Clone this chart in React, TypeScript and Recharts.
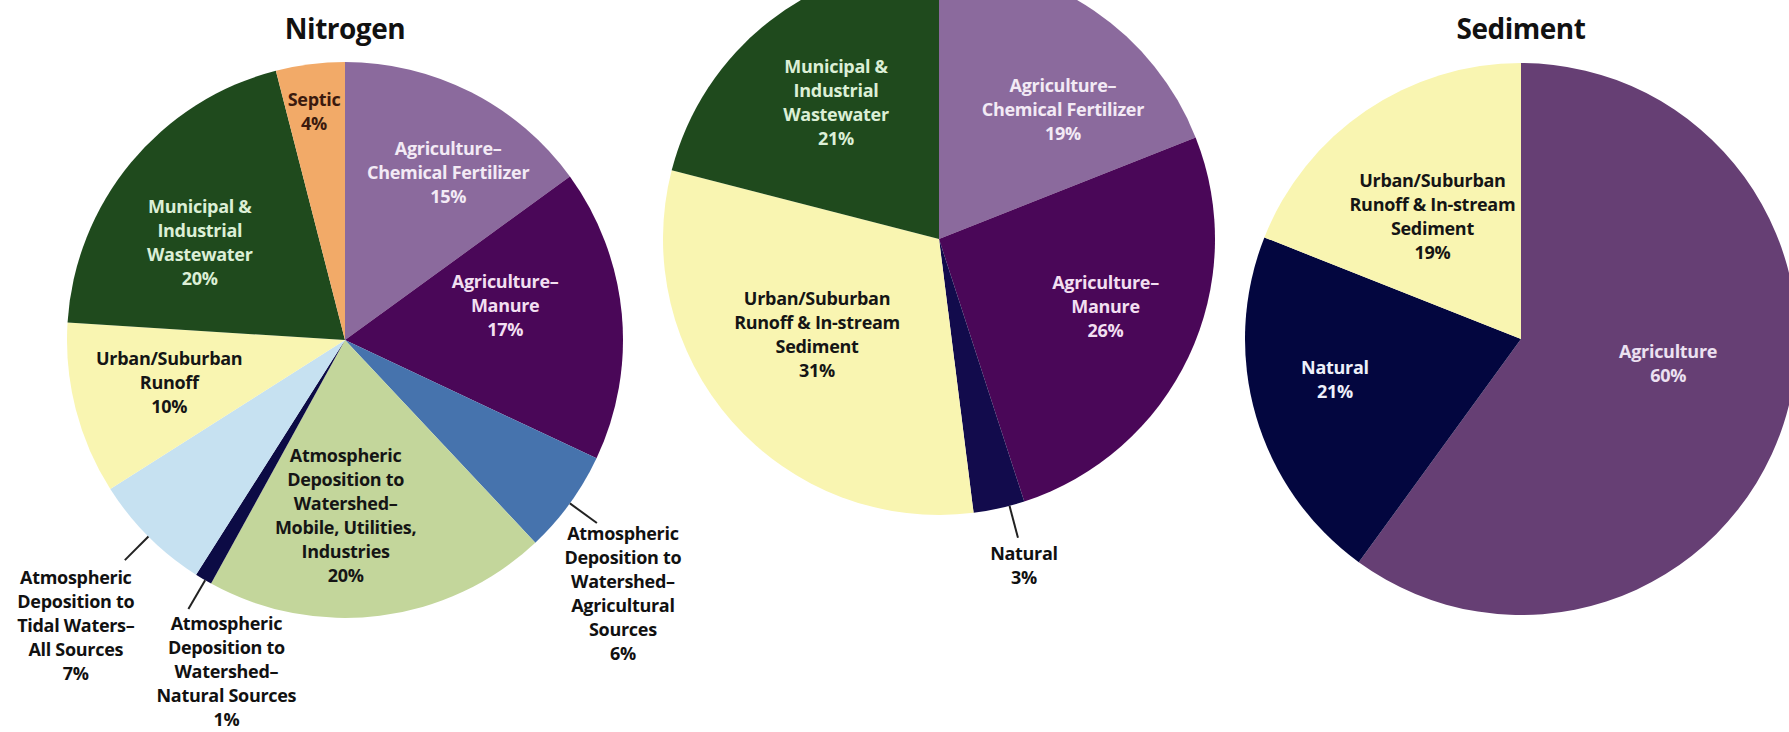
import { PieChart, Pie, Cell } from "recharts";

// Nitrogen loads by source (%), clockwise from 12 o'clock
const nitrogenNames = [
  "Agriculture–\nChemical Fertilizer",
  "Agriculture–\nManure",
  "Atmospheric\nDeposition to\nWatershed–\nAgricultural\nSources",
  "Atmospheric\nDeposition to\nWatershed–\nMobile, Utilities,\nIndustries",
  "Atmospheric\nDeposition to\nWatershed–\nNatural Sources",
  "Atmospheric\nDeposition to\nTidal Waters–\nAll Sources",
  "Urban/Suburban\nRunoff",
  "Municipal &\nIndustrial\nWastewater",
  "Septic",
];
const nitrogenValues = [15, 17, 6, 20, 1, 7, 10, 20, 4];

// Phosphorus (title sits above the visible area)
const phosphorusNames = [
  "Agriculture–\nChemical Fertilizer",
  "Agriculture–\nManure",
  "Natural",
  "Urban/Suburban\nRunoff & In-stream\nSediment",
  "Municipal &\nIndustrial\nWastewater",
];
const phosphorusValues = [19, 26, 3, 31, 21];

const sedimentNames = [
  "Agriculture",
  "Natural",
  "Urban/Suburban\nRunoff & In-stream\nSediment",
];
const sedimentValues = [60, 21, 19];

const nitrogenColors = ["#8b6a9d", "#4a0758", "#4673ad", "#c3d69b", "#0c0b45", "#c6e1f1", "#f9f5b1", "#1f4a1d", "#f2aa68"];
const phosphorusColors = ["#8b6a9d", "#4a0758", "#120b4c", "#f9f5b1", "#1f4a1d"];
const sedimentColors = ["#663f74", "#03063f", "#f9f5b1"];

type LabelCfg = { rf?: number; shift: number; fill: string; out?: boolean; dx?: number; dy?: number };

const nitrogenLabels: LabelCfg[] = [
  { rf: 0.71, shift: 4.5, fill: "#f3eaf5" },
  { rf: 0.59, shift: -7, fill: "#f2dff1" },
  { out: true, shift: 0, dx: 26, dy: 10, fill: "#111" },
  { rf: 0.63, shift: 7, fill: "#151515" },
  { out: true, shift: -0.4, dx: 38, dy: 14, fill: "#111" },
  { out: true, shift: 0, dx: -49, dy: 17, fill: "#111" },
  { rf: 0.65, shift: 1, fill: "#151515" },
  { rf: 0.63, shift: -5.6, fill: "#dcefd6" },
  { rf: 0.83, shift: -0.5, fill: "#3b1a0e" },
];
const phosphorusLabels: LabelCfg[] = [
  { rf: 0.65, shift: 9.5, fill: "#f3eaf5" },
  { rf: 0.65, shift: -3.4, fill: "#f2dff1" },
  { out: true, shift: -2.2, dx: 6, dy: 15, fill: "#111" },
  { rf: 0.56, shift: 3.5, fill: "#151515" },
  { rf: 0.62, shift: 0.8, fill: "#dcefd6" },
];
const sedimentLabels: LabelCfg[] = [
  { rf: 0.54, shift: -8.8, fill: "#ece1f1" },
  { rf: 0.69, shift: 4, fill: "#eef0fa" },
  { rf: 0.55, shift: -1.5, fill: "#151515" },
];

const RAD = Math.PI / 180;
const LINE_H = 24;
const FONT = "'Open Sans', Lato, sans-serif";

const makeLabel = (names: string[], values: number[], layout: LabelCfg[]) => (props: any) => {
  const { cx, cy, midAngle, outerRadius, index } = props;
  const cfg = layout[index];
  const a = (midAngle - cfg.shift) * RAD;
  const ux = Math.cos(a);
  const uy = -Math.sin(a);
  const lines = [...names[index].split("\n"), `${values[index]}%`];
  let tx: number;
  let ty: number;
  let leader = null;
  if (cfg.out) {
    const ex = cx + outerRadius * 1.12 * ux;
    const ey = cy + outerRadius * 1.12 * uy;
    leader = (
      <line
        x1={cx + outerRadius * 1.0 * ux}
        y1={cy + outerRadius * 1.0 * uy}
        x2={ex}
        y2={ey}
        stroke="#222"
        strokeWidth={2}
      />
    );
    tx = ex + (cfg.dx ?? 0);
    ty = ey + (cfg.dy ?? 0);
  } else {
    const r = outerRadius * (cfg.rf ?? 0.6);
    tx = cx + r * ux;
    ty = cy + r * uy - ((lines.length - 1) * LINE_H) / 2;
  }
  return (
    <g key={`lbl-${index}`}>
      {leader}
      <text
        x={tx}
        y={ty}
        textAnchor="middle"
        dominantBaseline="central"
        fill={cfg.fill}
        fontFamily={FONT}
        fontWeight={700}
        fontSize={18}
        letterSpacing={-0.3}
      >
        {lines.map((ln, i) => (
          <tspan key={i} x={tx} y={ty + i * LINE_H}>
            {ln}
          </tspan>
        ))}
      </text>
    </g>
  );
};

const toData = (names: string[], values: number[]) =>
  names.map((name, i) => ({ name, value: values[i] }));

const titleStyle = (left: number): React.CSSProperties => ({
  position: "absolute",
  left: left - 150,
  top: 8,
  width: 300,
  textAlign: "center",
  fontFamily: FONT,
  fontWeight: 700,
  fontSize: 28,
  letterSpacing: -0.5,
  color: "#111",
  lineHeight: "40px",
});

export default function App() {
  return (
    <div style={{ position: "absolute", left: 0, top: 0, width: 1789, height: 732, background: "#fff", overflow: "hidden" }}>
      <PieChart width={1789} height={732} margin={{ top: 0, right: 0, bottom: 0, left: 0 }}>
        <Pie
          data={toData(nitrogenNames, nitrogenValues)}
          dataKey="value"
          cx={345}
          cy={340}
          outerRadius={278}
          startAngle={90}
          endAngle={-270}
          stroke="none"
          labelLine={false}
          label={makeLabel(nitrogenNames, nitrogenValues, nitrogenLabels)}
          isAnimationActive={false}
        >
          {nitrogenColors.map((c, i) => (
            <Cell key={i} fill={c} />
          ))}
        </Pie>
        <Pie
          data={toData(phosphorusNames, phosphorusValues)}
          dataKey="value"
          cx={939}
          cy={239}
          outerRadius={276}
          startAngle={90}
          endAngle={-270}
          stroke="none"
          labelLine={false}
          label={makeLabel(phosphorusNames, phosphorusValues, phosphorusLabels)}
          isAnimationActive={false}
        >
          {phosphorusColors.map((c, i) => (
            <Cell key={i} fill={c} />
          ))}
        </Pie>
        <Pie
          data={toData(sedimentNames, sedimentValues)}
          dataKey="value"
          cx={1521}
          cy={339}
          outerRadius={276}
          startAngle={90}
          endAngle={-270}
          stroke="none"
          labelLine={false}
          label={makeLabel(sedimentNames, sedimentValues, sedimentLabels)}
          isAnimationActive={false}
        >
          {sedimentColors.map((c, i) => (
            <Cell key={i} fill={c} />
          ))}
        </Pie>
      </PieChart>
      <div style={titleStyle(345)}>Nitrogen</div>
      <div style={titleStyle(1521)}>Sediment</div>
    </div>
  );
}
